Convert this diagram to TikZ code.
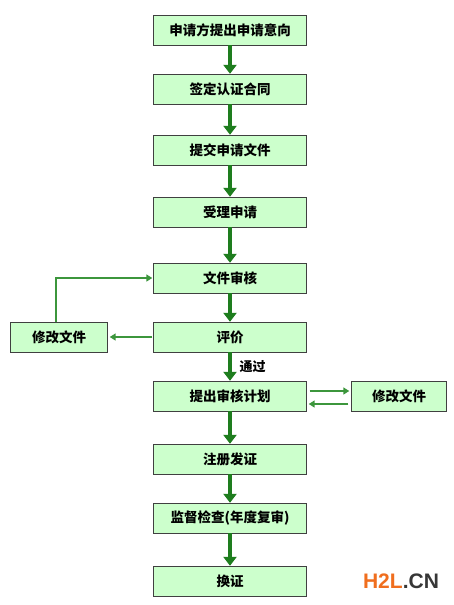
\documentclass[tikz,border=0pt]{standalone}
\usepackage{fontspec}
\newfontfamily\cjk{Noto Sans CJK SC}
\setsansfont{Liberation Sans}
\usetikzlibrary{arrows.meta}

\definecolor{boxgreen}{RGB}{204,255,204}
\definecolor{flowgreen}{RGB}{30,125,30}
\definecolor{backgreen}{RGB}{60,150,60}
\definecolor{logoorange}{RGB}{240,110,30}
\definecolor{logogray}{RGB}{55,55,55}

\begin{document}
\begin{tikzpicture}[x=1pt,y=-1pt,
  stage/.style={draw=black!75, fill=boxgreen, minimum width=153pt, minimum height=30pt,
    inner sep=0pt, font=\cjk\bfseries\fontsize{13.5}{15}\selectfont},
  flow/.style={flowgreen, line width=4.5pt, -{Triangle[width=13pt,length=9pt]}},
  back/.style={backgreen, line width=2pt, -{Triangle[width=7pt,length=6pt]}}]

\useasboundingbox[fill=white] (0,0) rectangle (454,605);

% main column
\node[stage] (apply) at (230,30) {申请方提出申请意向};
\node[stage] (contract) at (230,89) {签定认证合同};
\node[stage] (submit) at (230,150) {提交申请文件};
\node[stage] (accept) at (230,212) {受理申请};
\node[stage] (review) at (230,278) {文件审核};
\node[stage] (assess) at (230,337) {评价};
\node[stage] (plan) at (230,396) {提出审核计划};
\node[stage] (issue) at (230,459) {注册发证};
\node[stage] (audit) at (230,518) {监督检查(年度复审)};
\node[stage] (renew) at (230,581) {换证};

% side boxes
\node[stage, minimum width=97pt] (modleft) at (59,337) {修改文件};
\node[stage, minimum width=95pt] (modright) at (399,396) {修改文件};

\draw[flow] (apply) -- (contract);
\draw[flow] (contract) -- (submit);
\draw[flow] (submit) -- (accept);
\draw[flow] (accept) -- (review);
\draw[flow] (review) -- (assess);
\draw[flow] (assess) -- node[right, xshift=4pt, text=black, font=\cjk\bfseries\fontsize{13}{14}\selectfont] {通过} (plan);
\draw[flow] (plan) -- (issue);
\draw[flow] (issue) -- (audit);
\draw[flow] (audit) -- (renew);

% feedback loops
\draw[back, shorten <=1pt, shorten >=2pt] (assess.west) -- (modleft.east);
\draw[back, shorten >=1pt] ([xshift=-3pt]modleft.north) |- (review.west);
\draw[back, shorten <=3pt, shorten >=2pt] ([yshift=5pt]plan.east) -- ([yshift=5pt]modright.west);
\draw[back, shorten <=3pt, shorten >=2pt] ([yshift=-8pt]modright.west) -- ([yshift=-8pt]plan.east);

\node[font=\sffamily\bfseries\fontsize{21}{23}\selectfont] (logo) at (401,581)
  {\textcolor{logoorange}{H2L}\textcolor{logogray}{.CN}};

\end{tikzpicture}
\end{document}
